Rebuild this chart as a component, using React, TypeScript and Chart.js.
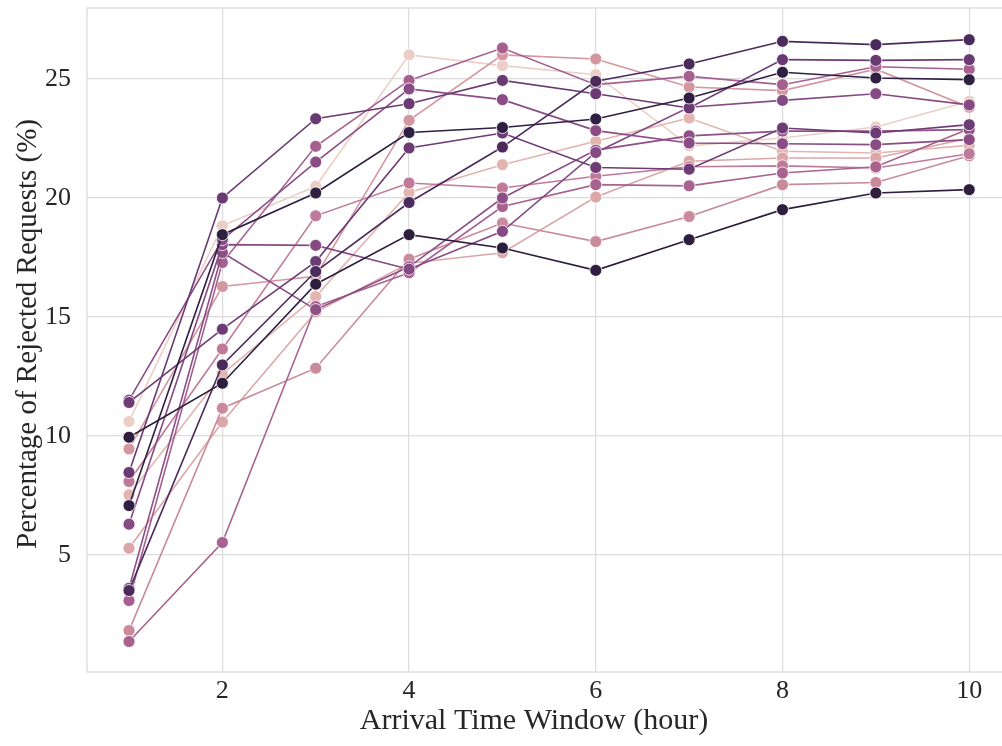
import React, { useEffect, useRef } from "react";
import { Chart, registerables } from "chart.js";

Chart.register(...registerables);

const xValues = [1, 2, 3, 4, 5, 6, 7, 8, 9, 10];
const xTicks = [2, 4, 6, 8, 10];
const yTicks = [5, 10, 15, 20, 25];
const xTitle = "Arrival Time Window (hour)";
const yTitle = "Percentage of Rejected Requests (%)";

// series values (percentage of rejected requests), darkest first
const s01 = [9.94, 12.21, 16.37, 18.45, 17.89, 16.95, 18.24, 19.5, 20.2, 20.34];
const s02 = [7.07, 18.45, 20.2, 22.74, 22.95, 23.31, 24.19, 25.27, 25.03, 24.96];
const s03 = [3.5, 12.98, 16.9, 19.8, 22.13, 24.89, 25.62, 26.57, 26.43, 26.64];
const s04 = [8.46, 19.99, 23.32, 23.95, 24.93, 24.37, 23.77, 25.8, 25.77, 25.8];
const s05 = [11.4, 14.48, 17.32, 22.09, 22.72, 21.27, 21.2, 22.93, 22.72, 23.07];
const s06 = [11.5, 18.24, 21.5, 24.57, 24.12, 22.82, 22.3, 22.27, 22.23, 22.44];
const s07 = [6.29, 18.03, 18.0, 17.0, 18.59, 21.9, 23.8, 24.09, 24.37, 23.9];
const s08 = [3.6, 17.7, 15.3, 17.1, 19.99, 22.0, 22.6, 22.8, 22.8, 22.86];
const s09 = [3.08, 17.28, 22.16, 24.93, 26.29, 24.75, 25.1, 24.75, 25.5, 25.4];
const s10 = [1.36, 5.52, 15.43, 16.85, 19.63, 20.55, 20.5, 21.04, 21.3, 22.9];
const s11 = [8.08, 13.65, 19.24, 20.62, 20.41, 20.9, 21.3, 21.34, 21.25, 21.85];
const s12 = [1.82, 11.16, 12.84, 17.42, 18.94, 18.16, 19.21, 20.55, 20.64, 21.76];
const s13 = [9.45, 16.27, 16.7, 23.25, 26.0, 25.83, 24.65, 24.5, 25.4, 23.8];
const s14 = [5.28, 10.58, 15.2, 17.25, 17.69, 20.03, 21.53, 21.67, 21.67, 22.5];
const s15 = [7.52, 12.6, 15.85, 20.22, 21.39, 22.37, 23.35, 21.95, 21.88, 22.2];
const s16 = [10.6, 18.82, 20.48, 26.0, 25.55, 25.17, 22.18, 22.51, 22.97, 24.05];

const seriesList = [s01, s02, s03, s04, s05, s06, s07, s08, s09, s10, s11, s12, s13, s14, s15, s16];
const seriesColors = [
  "#2d1e3e", "#2f1f42", "#4a2b5c", "#6a3a72", "#6e3c75", "#8a4c84", "#854a82", "#8e4f87",
  "#a6608f", "#a8628f", "#c07a99", "#c98a9c", "#d4969f", "#dba6a8", "#e2b5b0", "#ebcfc7",
];

const FONT = "'Liberation Serif', 'Times New Roman', serif";
const GRID = "#dcdcdc";
const TEXT = "#262626";

const framePlugin = {
  id: "frame",
  beforeDatasetsDraw(chart: any) {
    const { ctx, chartArea } = chart;
    const { left, top, right, bottom } = chartArea;
    ctx.save();
    ctx.strokeStyle = GRID;
    ctx.lineWidth = 1.3;
    ctx.strokeRect(left, top, right - left, bottom - top);
    ctx.restore();
  },
  afterDraw(chart: any) {
    const { ctx } = chart;
    ctx.save();
    ctx.fillStyle = TEXT;
    ctx.textAlign = "center";
    ctx.textBaseline = "middle";
    ctx.font = `30px ${FONT}`;
    ctx.fillText(xTitle, 534, 721);
    ctx.translate(28, 334);
    ctx.rotate(-Math.PI / 2);
    ctx.font = `29px ${FONT}`;
    ctx.fillText(yTitle, 0, 0);
    ctx.restore();
  },
};

export default function App() {
  const ref = useRef<HTMLCanvasElement | null>(null);

  useEffect(() => {
    document.body.style.margin = "0";
    document.body.style.overflow = "hidden";
    if (!ref.current) return;
    const datasets = seriesList.map((s, i) => ({
      label: `run ${i + 1}`,
      data: xValues.map((x, j) => ({ x, y: s[j] })),
      borderColor: seriesColors[i],
      backgroundColor: seriesColors[i],
      pointBackgroundColor: seriesColors[i],
      pointBorderColor: "#ffffff",
      pointBorderWidth: 0.8,
      pointRadius: 6,
      borderWidth: 1.6,
      tension: 0,
    }));
    const chart = new Chart(ref.current, {
      type: "line",
      data: { datasets },
      plugins: [framePlugin],
      options: {
        animation: false,
        responsive: false,
        maintainAspectRatio: false,
        layout: { padding: { top: 8, right: 2, left: 0, bottom: 0 } },
        plugins: { legend: { display: false }, tooltip: { enabled: false } },
        scales: {
          x: {
            type: "linear",
            min: 0.55,
            max: 10.45,
            afterFit(s: any) {
              s.height = 74;
              s.paddingLeft = 0;
              s.paddingRight = 0;
            },
            afterBuildTicks(s: any) {
              s.ticks = xTicks.map((v) => ({ value: v }));
            },
            grid: { color: GRID, lineWidth: 1.2, drawTicks: false },
            border: { display: false },
            ticks: { font: { family: FONT, size: 26 }, color: TEXT, padding: 4 },
            title: { display: false },
          },
          y: {
            type: "linear",
            min: 0.08,
            max: 27.97,
            afterFit(s: any) {
              s.width = 87;
              s.paddingTop = 0;
              s.paddingBottom = 0;
            },
            afterBuildTicks(s: any) {
              s.ticks = yTicks.map((v) => ({ value: v }));
            },
            grid: { color: GRID, lineWidth: 1.2, drawTicks: false },
            border: { display: false },
            ticks: { font: { family: FONT, size: 26 }, color: TEXT, padding: 16 },
            title: { display: false },
          },
        },
      },
    });
    return () => chart.destroy();
  }, []);

  return (
    <div style={{ width: 1002, height: 746, overflow: "hidden" }}>
      <canvas ref={ref} width={1018} height={746} style={{ display: "block" }} />
    </div>
  );
}
